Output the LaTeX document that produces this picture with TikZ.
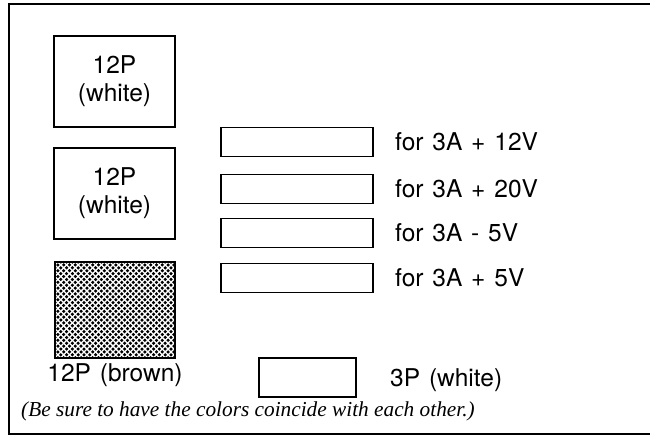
\documentclass[tikz,border=0pt]{standalone}
\usepackage{fontspec}
\setmainfont{TeX Gyre Heros}[WordSpace=1.3]
\newfontfamily\noteserif{Liberation Serif}
\begin{document}
\begin{tikzpicture}[x=1pt, y=-1pt,
  connbox/.style={draw, line width=1.1pt, inner sep=0pt},
  plug/.style={connbox, minimum width=121pt, minimum height=91pt, align=center, font=\fontsize{24.5}{28}\selectfont},
  slot/.style={connbox, minimum width=152pt, minimum height=29pt},
  lbl/.style={inner sep=0pt, font=\fontsize{24.5}{25}\selectfont}]
 \useasboundingbox (0,0) rectangle (650,437);
 \draw[line width=1.2pt] (650,4) -- (9,4) -- (9,434) -- (650,434);

 % connectors on the left
 \node[plug] (plugA) at (114.5,81.5) {12P\\(white)};
 \node[plug] (plugB) at (114.5,193.5) {12P\\(white)};

 \begin{scope}
  \clip (55,262) rectangle (175,358);
  \foreach \i in {0,...,21}
   \foreach \j in {0,...,17} {
    \fill (55+\i*5.8,262+\j*5.8) circle (1.75pt);
    \fill (57.9+\i*5.8,264.9+\j*5.8) circle (1.75pt);
   }
 \end{scope}
 \node[connbox, line width=1.4pt, minimum width=120pt, minimum height=96pt] (plugC) at (115,310) {};
 \node[lbl] (plugClbl) at (115,375) {12P (brown)};

 % power slots
 \node[slot] (slotA) at (297,142) {};
 \node[slot] (slotB) at (297,189) {};
 \node[slot] (slotC) at (297,233) {};
 \node[slot] (slotD) at (297,278) {};
 \node[lbl, anchor=west] at (395,142) {for 3A + 12V};
 \node[lbl, anchor=west] at (395,189) {for 3A + 20V};
 \node[lbl, anchor=west] at (395,233) {for 3A - 5V};
 \node[lbl, anchor=west] at (395,278) {for 3A + 5V};

 \node[connbox, minimum width=97pt, minimum height=39pt] (plugD) at (307.5,377.5) {};
 \node[lbl, anchor=west] at (390,380) {3P (white)};

 \node[inner sep=0pt, anchor=west, font=\noteserif\itshape\fontsize{21.3}{22}\selectfont] (note) at (21,411)
  {(Be sure to have the colors coincide with each other.)};
\end{tikzpicture}
\end{document}
